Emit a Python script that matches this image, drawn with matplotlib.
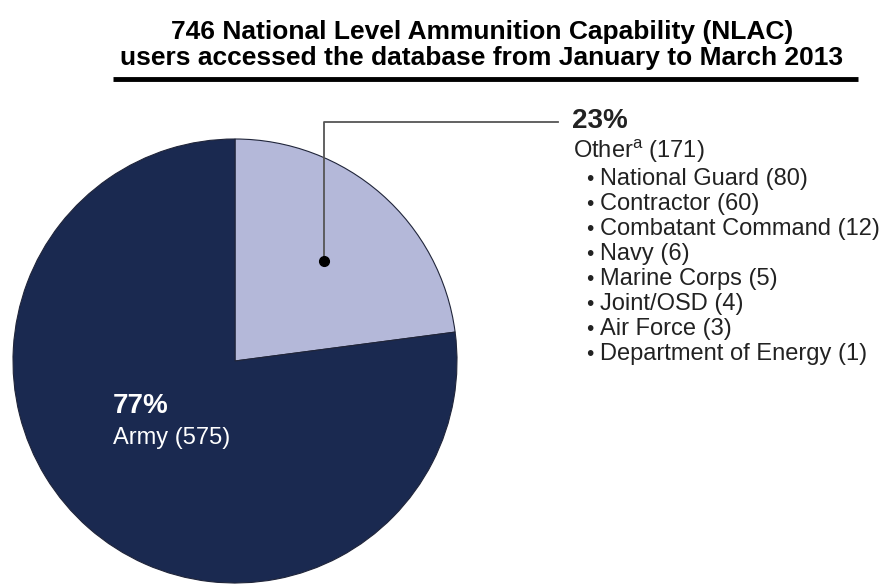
import matplotlib
matplotlib.use('Agg')
import matplotlib.pyplot as plt

W, H = 890, 584

labels = ['Other', 'Army']
values = [171, 575]
colors = ['#b4b8d9', '#1a2950']

other_groups = ['National Guard', 'Contractor', 'Combatant Command', 'Navy',
                'Marine Corps', 'Joint/OSD', 'Air Force', 'Department of Energy']
other_counts = [80, 60, 12, 6, 5, 4, 3, 1]

title_lines = ['746 National Level Ammunition Capability (NLAC)',
               'users accessed the database from January to March 2013']

plt.rcParams['font.family'] = ['Liberation Sans', 'DejaVu Sans']
plt.rcParams['mathtext.fontset'] = 'custom'
plt.rcParams['mathtext.rm'] = 'Liberation Sans'


def Y(py):
    # pixel row (top-down) -> data y (bottom-up)
    return H - py


fig = plt.figure(figsize=(W / 100, H / 100), dpi=100)
ax = fig.add_axes([0, 0, 1, 1])

ax.pie(values, colors=colors, startangle=90, counterclock=False,
       center=(235, Y(361)), radius=222,
       wedgeprops={'linewidth': 0.8, 'edgecolor': '#20253a'})
ax.set_xlim(0, W)
ax.set_ylim(0, H)
ax.set_aspect('equal')
ax.axis('off')

# title and rule under it
for i, line in enumerate(title_lines):
    ax.text(482, Y(39 + i * 26.5), line, ha='center', va='baseline', fontsize=19,
            fontweight='bold', color='black')
ax.plot([113, 858], [Y(79), Y(79)], color='black', lw=3.5, solid_capstyle='butt')

# callout for the Other slice
ax.plot([324, 324, 558], [Y(261), Y(122), Y(122)], color='#555555', lw=1.3)
ax.plot(324, Y(261), 'o', color='black', ms=7)

total = sum(values)
pct = [round(v / total * 100) for v in values]

txt = '#222222'
ax.text(572, Y(128), f'{pct[0]}%', ha='left', va='baseline', fontsize=20,
        fontweight='bold', color=txt)
ax.text(573, Y(158), f'{labels[0]}$^{{\\mathrm{{a}}}}$ ({values[0]})', ha='left',
        va='baseline', fontsize=17, color=txt)
for i, (g, c) in enumerate(zip(other_groups, other_counts)):
    yy = Y(185 + i * 25)
    ax.text(586, yy, '•', ha='left', va='baseline', fontsize=15, color=txt)
    ax.text(600, yy, f'{g} ({c})', ha='left', va='baseline', fontsize=17,
            color=txt)

# Army label inside the dark slice
ax.text(113, Y(413), f'{pct[1]}%', ha='left', va='baseline', fontsize=20,
        fontweight='bold', color='white')
ax.text(113, Y(444), f'{labels[1]} ({values[1]})', ha='left', va='baseline',
        fontsize=17, color='white')

fig.savefig('out.png', dpi=100)
